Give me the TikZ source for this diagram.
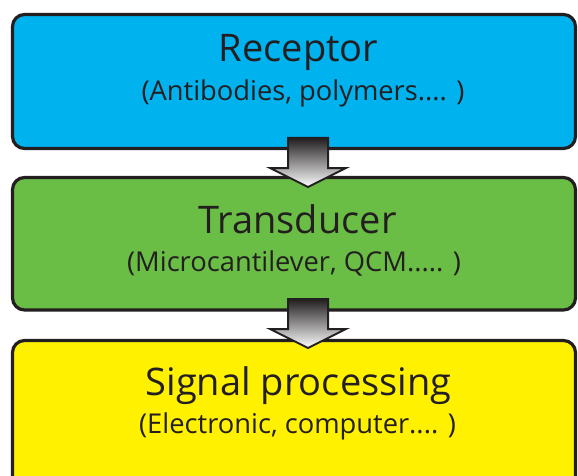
\documentclass[tikz,border=0pt]{standalone}
\usepackage{fontspec}
\setmainfont{Open Sans}
\definecolor{ink}{HTML}{231F20}
\definecolor{recblue}{HTML}{00B2EE}
\definecolor{trgreen}{HTML}{6ABD45}
\definecolor{sigyellow}{HTML}{FFF100}
\begin{document}
\begin{tikzpicture}[x=1pt,y=-1pt,
  box/.style={draw=ink,line width=3.2pt,rounded corners=12pt,inner sep=0pt},
  title/.style={anchor=base,text=ink,font=\fontsize{38}{42}\selectfont,inner sep=0pt},
  sub/.style={anchor=base,text=ink,font=\fontsize{27.3}{30}\selectfont,inner sep=0pt},
  blockarrow/.style={draw=ink,line width=2pt,line join=miter,top color=ink,bottom color=white}
]
\useasboundingbox (0,0) rectangle (578,476);
\begin{scope}
\clip (0,0) rectangle (578,476);
\node[box,fill=recblue,minimum width=563pt,minimum height=134pt] (rec) at (294,81.5) {};
\node[box,fill=trgreen,minimum width=563pt,minimum height=132.5pt] (tra) at (294,243.75) {};
\node[box,fill=sigyellow,minimum width=563pt,minimum height=150pt] (sig) at (294,415.5) {};
\end{scope}
\node[title] (t1) at (298.5,62) {Receptor};
\node[sub] (s1) at (303,101) {(Antibodies, polymers.... )};
\node[title] (t2) at (297.5,233) {Transducer};
\node[sub] (s2) at (294,271) {(Microcantilever, QCM..... )};
\node[title] (t3) at (298.5,395) {Signal processing};
\node[sub] (s3) at (297.5,433) {(Electronic, computer.... )};
% block arrows
\coordinate (a1) at (308,138);
\coordinate (a2) at (308,299);
\foreach \c in {a1,a2}{
  \path[blockarrow] ([xshift=-20pt]\c) -- ([xshift=20pt]\c) -- ([xshift=20pt,yshift=-30pt]\c)
    -- ([xshift=38pt,yshift=-30pt]\c) -- ([yshift=-49pt]\c) -- ([xshift=-38pt,yshift=-30pt]\c)
    -- ([xshift=-20pt,yshift=-30pt]\c) -- cycle;
}
\end{tikzpicture}
\end{document}
